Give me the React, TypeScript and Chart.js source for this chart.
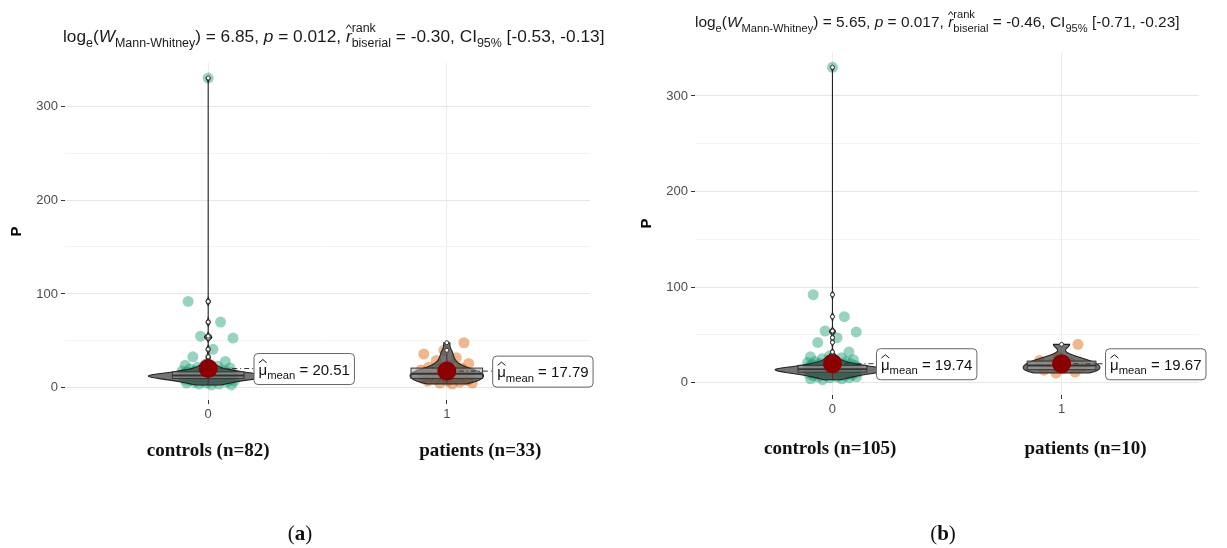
import React, { useEffect, useRef } from "react";
import { Chart, registerables } from "chart.js";
Chart.register(...registerables);

// ---------------- data ----------------
const categories = [0, 1];
const tickLabels = ["0", "1"];
const yMajorTicks = [0, 100, 200, 300];
const yMinorTicks = [50, 150, 250];
const yLabel = "P";

const groupLabelsA = ["controls (n=82)", "patients (n=33)"];
const groupLabelsB = ["controls (n=105)", "patients (n=10)"];

const controlsA = [
  330, 92, 70, 55, 53, 41, 33, 28, 25, 24, 23, 22, 21, 20, 20, 19, 19, 18, 18, 18,
  17, 17, 17, 16, 16, 16, 16, 15, 15, 15, 15, 15, 14, 14, 14, 14, 14, 14, 13, 13,
  13, 13, 13, 13, 13, 12, 12, 12, 12, 12, 12, 12, 11, 11, 11, 11, 11, 11, 10, 10,
  10, 10, 10, 9, 9, 9, 9, 8, 8, 8, 8, 7, 7, 7, 6, 6, 5, 5, 4, 4, 3, 3,
];
const patientsA = [
  48, 40, 36, 32, 29, 26, 24, 22, 21, 20, 19, 18, 17, 17, 16, 15, 15, 14, 14, 13,
  12, 12, 11, 10, 10, 9, 8, 7, 7, 6, 5, 5, 4,
];
const controlsB = [
  330, 92, 69, 54, 53, 47, 42, 32, 28, 27, 26, 25, 24, 23, 22, 22, 21, 21, 20, 20,
  20, 19, 19, 19, 18, 18, 18, 18, 17, 17, 17, 17, 17, 16, 16, 16, 16, 16, 16, 15,
  15, 15, 15, 15, 15, 15, 14, 14, 14, 14, 14, 14, 14, 14, 13, 13, 13, 13, 13, 13,
  13, 13, 12, 12, 12, 12, 12, 12, 12, 11, 11, 11, 11, 11, 11, 10, 10, 10, 10, 10,
  10, 9, 9, 9, 9, 9, 8, 8, 8, 8, 7, 7, 7, 6, 6, 6, 5, 5, 4, 4,
  3, 12, 13, 14, 15,
];
const patientsB = [40, 27, 23, 21, 19, 17, 15, 13, 11, 10];

const meansA = [20.51, 17.79];
const meansB = [19.74, 19.67];
const statsA = ["6.85", "0.012", "-0.30", "[-0.53, -0.13]"];
const statsB = ["5.65", "0.017", "-0.46", "[-0.71, -0.23]"];

// ---------------- styles / layout ----------------
const SANS = "'Liberation Sans', Arial, sans-serif";
const SERIF = "'Liberation Serif', 'Times New Roman', serif";
const GREEN = "rgba(27,158,119,0.45)";
const ORANGE = "rgba(217,95,2,0.45)";
const MEAN_RED = "#8B0000";

type PanelDef = {
  groups: number[][];
  means: number[];
  groupLabels: string[];
  stats: string[];
  letter: string;
};

type PanelStyle = {
  left: number;
  width: number;
  padLeft: number;
  padRight: number;
  padTop: number;
  yAxisW: number;
  xAxisH: number;
  titleX: number;
  titleBase: number;
  titleW: number;
  yTitleX: number;
  catBase: number;
  catShift: number[];
  letterX: number;
  letterBase: number;
};

const styleA: PanelStyle = {
  left: 0, width: 615, padLeft: 0, padRight: 25, padTop: 63, yAxisW: 65, xAxisH: 148,
  titleX: 63, titleBase: 42, titleW: 542, yTitleX: 17, catBase: 456, catShift: [0, 0.14],
  letterX: 300, letterBase: 540,
};
const styleB: PanelStyle = {
  left: 615, width: 612, padLeft: 0, padRight: 28, padTop: 52, yAxisW: 80, xAxisH: 153,
  titleX: 80, titleBase: 27, titleW: 485, yTitleX: 32, catBase: 454, catShift: [-0.01, 0.105],
  letterX: 328, letterBase: 540,
};

const panelA: PanelDef = { groups: [controlsA, patientsA], means: meansA, groupLabels: groupLabelsA, stats: statsA, letter: "a" };
const panelB: PanelDef = { groups: [controlsB, patientsB], means: meansB, groupLabels: groupLabelsB, stats: statsB, letter: "b" };

// ---------------- helpers ----------------
function jitter(i: number) {
  return ((((i * 0.6180339887 + 0.5) % 1) - 0.5) * 0.22);
}

function quantile(s: number[], q: number) {
  const pos = (s.length - 1) * q;
  const lo = Math.floor(pos);
  const hi = Math.ceil(pos);
  return s[lo] + (s[hi] - s[lo]) * (pos - lo);
}

function kde(values: number[]) {
  const s = [...values].sort((a, b) => a - b);
  const n = s.length;
  const mean = s.reduce((a, b) => a + b, 0) / n;
  const sd = Math.sqrt(s.reduce((a, b) => a + (b - mean) ** 2, 0) / (n - 1));
  const iqr = quantile(s, 0.75) - quantile(s, 0.25);
  const bw = 0.9 * Math.min(sd, iqr / 1.34) * Math.pow(n, -0.2);
  const pts: [number, number][] = [];
  const N = 600;
  for (let k = 0; k <= N; k++) {
    const y = s[0] + ((s[n - 1] - s[0]) * k) / N;
    let d = 0;
    for (const v of s) {
      const z = (y - v) / bw;
      d += Math.exp(-0.5 * z * z);
    }
    d /= n * bw * Math.sqrt(2 * Math.PI);
    pts.push([y, d]);
  }
  return pts;
}

type Seg = {
  t?: string;
  size: number;
  italic?: boolean;
  bold?: boolean;
  dy?: number;
  hat?: boolean;
  stack?: [string, string];
  supDy?: number;
  subDy?: number;
};

function fontOf(s: Seg, fam: string) {
  return `${s.italic ? "italic " : ""}${s.bold ? "bold " : ""}${s.size}px ${fam}`;
}

function drawSegs(ctx: CanvasRenderingContext2D, segs: Seg[], x: number, y: number, fam: string, draw: boolean) {
  let cx = x;
  for (const s of segs) {
    if (s.stack) {
      ctx.font = fontOf(s, fam);
      const w1 = ctx.measureText(s.stack[0]).width;
      const w2 = ctx.measureText(s.stack[1]).width;
      if (draw) {
        ctx.fillText(s.stack[0], cx, y + (s.supDy || 0));
        ctx.fillText(s.stack[1], cx, y + (s.subDy || 0));
      }
      cx += Math.max(w1, w2);
      continue;
    }
    ctx.font = fontOf(s, fam);
    const w = ctx.measureText(s.t || "").width;
    if (draw) {
      ctx.fillText(s.t || "", cx, y + (s.dy || 0));
      if (s.hat) {
        const top = y - s.size * 1.0;
        ctx.save();
        ctx.lineWidth = 1;
        ctx.strokeStyle = ctx.fillStyle as string;
        ctx.beginPath();
        ctx.moveTo(cx + w * 0.05, top + s.size * 0.22);
        ctx.lineTo(cx + w * 0.5, top);
        ctx.lineTo(cx + w * 0.95, top + s.size * 0.22);
        ctx.stroke();
        ctx.restore();
      }
    }
    cx += w;
  }
  return cx - x;
}

function titleSegs(stats: string[], S: number): Seg[] {
  const sub = S * 0.72;
  return [
    { t: "log", size: S },
    { t: "e", size: sub, dy: S * 0.3 },
    { t: "(", size: S },
    { t: "W", size: S, italic: true },
    { t: "Mann-Whitney", size: sub, dy: S * 0.3 },
    { t: `) = ${stats[0]}, `, size: S },
    { t: "p", size: S, italic: true },
    { t: ` = ${stats[1]}, `, size: S },
    { t: "r", size: S, italic: true, hat: true },
    { stack: ["rank", "biserial"], size: sub, supDy: -S * 0.55, subDy: S * 0.3 },
    { t: ` = ${stats[2]}, CI`, size: S },
    { t: "95%", size: sub, dy: S * 0.3 },
    { t: ` ${stats[3]}`, size: S },
  ];
}

function meanSegs(m: number, M: number): Seg[] {
  return [
    { t: "μ", size: M, hat: true },
    { t: "mean", size: M * 0.75, dy: M * 0.3 },
    { t: ` = ${m.toFixed(2)}`, size: M },
  ];
}

function makePlugin(p: PanelDef, st: PanelStyle) {
  return {
    id: "panelDecor",
    beforeDatasetDraw(chart: any, args: any) {
      if (args.index !== 0) return;
      const ctx: CanvasRenderingContext2D = chart.ctx;
      const xs = chart.scales.x;
      const ys = chart.scales.y;
      const dens = p.groups.map(kde);
      let maxD = 0;
      dens.forEach((d) => d.forEach((q) => (maxD = Math.max(maxD, q[1]))));
      const k = 0.25 / maxD;
      ctx.save();
      p.groups.forEach((vals, gi) => {
        const cat = categories[gi];
        const pts = dens[gi];
        // violin
        ctx.beginPath();
        pts.forEach(([v, d], j) => {
          const px = xs.getPixelForValue(cat + d * k);
          const py = ys.getPixelForValue(v);
          if (j === 0) ctx.moveTo(px, py);
          else ctx.lineTo(px, py);
        });
        for (let j = pts.length - 1; j >= 0; j--) {
          const [v, d] = pts[j];
          ctx.lineTo(xs.getPixelForValue(cat - d * k), ys.getPixelForValue(v));
        }
        ctx.closePath();
        ctx.fillStyle = "rgba(75,75,75,0.78)";
        ctx.fill();
        ctx.strokeStyle = "#222";
        ctx.lineWidth = 1.1;
        ctx.stroke();

        // box
        const s = [...vals].sort((a, b) => a - b);
        const q1 = quantile(s, 0.25);
        const q2 = quantile(s, 0.5);
        const q3 = quantile(s, 0.75);
        const iqr = q3 - q1;
        const hiW = Math.max(...s.filter((v) => v <= q3 + 1.5 * iqr));
        const loW = Math.min(...s.filter((v) => v >= q1 - 1.5 * iqr));
        const bl = xs.getPixelForValue(cat - 0.15);
        const br = xs.getPixelForValue(cat + 0.15);
        const cx = xs.getPixelForValue(cat);
        ctx.strokeStyle = "#333";
        ctx.lineWidth = 1;
        ctx.beginPath();
        ctx.moveTo(cx, ys.getPixelForValue(q3));
        ctx.lineTo(cx, ys.getPixelForValue(hiW));
        ctx.moveTo(cx, ys.getPixelForValue(q1));
        ctx.lineTo(cx, ys.getPixelForValue(loW));
        ctx.stroke();
        const yt = ys.getPixelForValue(q3);
        const yb = ys.getPixelForValue(q1);
        ctx.fillStyle = "rgba(170,170,170,0.55)";
        ctx.fillRect(bl, yt, br - bl, yb - yt);
        ctx.strokeRect(bl, yt, br - bl, yb - yt);
        ctx.lineWidth = 2;
        ctx.beginPath();
        ctx.moveTo(bl, ys.getPixelForValue(q2));
        ctx.lineTo(br, ys.getPixelForValue(q2));
        ctx.stroke();
        // outliers
        ctx.lineWidth = 1;
        s.filter((v) => v > hiW || v < loW).forEach((v) => {
          ctx.beginPath();
          ctx.arc(cx, ys.getPixelForValue(v), 2, 0, Math.PI * 2);
          ctx.fillStyle = "#fff";
          ctx.fill();
          ctx.strokeStyle = "#333";
          ctx.stroke();
        });

        // dash-dot connector to mean label
        const my = ys.getPixelForValue(p.means[gi]);
        ctx.save();
        ctx.setLineDash([5, 3, 1, 3]);
        ctx.strokeStyle = "#333";
        ctx.lineWidth = 1;
        ctx.beginPath();
        ctx.moveTo(cx, my);
        ctx.lineTo(xs.getPixelForValue(cat + 0.19), my);
        ctx.stroke();
        ctx.restore();
      });
      ctx.restore();
    },
    afterDatasetsDraw(chart: any) {
      const ctx: CanvasRenderingContext2D = chart.ctx;
      const xs = chart.scales.x;
      const ys = chart.scales.y;
      ctx.save();
      p.means.forEach((m, gi) => {
        const cat = categories[gi];
        const lx = xs.getPixelForValue(cat + 0.19);
        const my = ys.getPixelForValue(m);
        const segs = meanSegs(m, 15);
        ctx.fillStyle = "#111";
        const tw = drawSegs(ctx, segs, 0, 0, SANS, false);
        const w = tw + 9;
        const h = 31;
        ctx.beginPath();
        (ctx as any).roundRect(lx + 0.5, my - h / 2 + 0.5, w, h, 4);
        ctx.fillStyle = "#fff";
        ctx.fill();
        ctx.strokeStyle = "#666";
        ctx.lineWidth = 1;
        ctx.stroke();
        ctx.fillStyle = "#111";
        ctx.textBaseline = "alphabetic";
        drawSegs(ctx, segs, lx + 5, my + 6, SANS, true);
      });
      ctx.restore();
    },
    afterDraw(chart: any) {
      const ctx: CanvasRenderingContext2D = chart.ctx;
      const xs = chart.scales.x;
      const area = chart.chartArea;
      ctx.save();
      ctx.textBaseline = "alphabetic";
      ctx.fillStyle = "#1a1a1a";
      // title (fit to target width)
      const w0 = drawSegs(ctx, titleSegs(p.stats, 14), 0, 0, SANS, false);
      const S = (14 * st.titleW) / w0;
      drawSegs(ctx, titleSegs(p.stats, S), st.titleX, st.titleBase, SANS, true);

      // y axis title
      ctx.save();
      ctx.translate(st.yTitleX, (area.top + area.bottom) / 2);
      ctx.rotate(-Math.PI / 2);
      ctx.font = `bold 15px ${SANS}`;
      ctx.textAlign = "center";
      ctx.textBaseline = "middle";
      ctx.fillStyle = "#000";
      ctx.fillText(yLabel, 0, 0);
      ctx.restore();

      // category labels
      ctx.font = `bold 19px ${SERIF}`;
      ctx.textAlign = "center";
      ctx.fillStyle = "#111";
      p.groupLabels.forEach((lab, gi) => {
        ctx.fillText(lab, xs.getPixelForValue(categories[gi] + st.catShift[gi]), st.catBase);
      });

      // panel letter "(a)"
      ctx.textAlign = "left";
      const fr = `21px ${SERIF}`;
      const fb = `bold 21px ${SERIF}`;
      ctx.font = fr;
      const wp = ctx.measureText("(").width;
      const wq = ctx.measureText(")").width;
      ctx.font = fb;
      const wl = ctx.measureText(p.letter).width;
      let x = st.letterX - (wp + wq + wl) / 2;
      ctx.font = fr;
      ctx.fillText("(", x, st.letterBase);
      x += wp;
      ctx.font = fb;
      ctx.fillText(p.letter, x, st.letterBase);
      x += wl;
      ctx.font = fr;
      ctx.fillText(")", x, st.letterBase);
      ctx.restore();
    },
  };
}

function buildConfig(p: PanelDef, st: PanelStyle): any {
  const allY = [...yMajorTicks, ...yMinorTicks].sort((a, b) => a - b);
  return {
    type: "scatter",
    data: {
      datasets: [
        {
          data: p.means.map((m, i) => ({ x: categories[i], y: m })),
          backgroundColor: MEAN_RED,
          borderWidth: 0,
          pointRadius: 9.5,
        },
        {
          data: p.groups[1].map((v, i) => ({ x: categories[1] + jitter(i + 7), y: v })),
          backgroundColor: ORANGE,
          borderWidth: 0,
          pointRadius: 5.5,
        },
        {
          data: p.groups[0].map((v, i) => ({ x: categories[0] + jitter(i), y: v })),
          backgroundColor: GREEN,
          borderWidth: 0,
          pointRadius: 5.5,
        },
      ],
    },
    options: {
      animation: false,
      responsive: false,
      devicePixelRatio: 1,
      events: [],
      layout: { padding: { left: st.padLeft, right: st.padRight, top: st.padTop, bottom: 0 } },
      plugins: { legend: { display: false }, tooltip: { enabled: false }, title: { display: false } },
      scales: {
        x: {
          type: "linear",
          min: -0.6,
          max: 1.6,
          afterBuildTicks: (s: any) => {
            s.ticks = categories.map((v) => ({ value: v }));
          },
          afterFit: (s: any) => {
            s.height = st.xAxisH;
          },
          ticks: {
            autoSkip: false,
            maxRotation: 0,
            padding: 3,
            color: "#4D4D4D",
            font: { family: SANS, size: 13 },
            callback: (v: number) => {
              const i = categories.indexOf(v);
              return i >= 0 ? tickLabels[i] : "";
            },
          },
          grid: { color: "#EBEBEB", lineWidth: 1, tickColor: "#333", tickLength: 4 },
          border: { display: false },
        },
        y: {
          type: "linear",
          min: -13,
          max: 346,
          afterBuildTicks: (s: any) => {
            s.ticks = allY.map((v) => ({ value: v }));
          },
          afterFit: (s: any) => {
            s.width = st.yAxisW;
          },
          ticks: {
            padding: 3,
            color: "#4D4D4D",
            font: { family: SANS, size: 13 },
            callback: (v: number) => (yMajorTicks.includes(v) ? String(v) : ""),
          },
          grid: {
            lineWidth: 1,
            tickLength: 4,
            color: (c: any) => (yMajorTicks.includes(c.tick?.value) ? "#E6E6E6" : "#F3F3F3"),
            tickColor: (c: any) => (yMajorTicks.includes(c.tick?.value) ? "#333" : "rgba(0,0,0,0)"),
          },
          border: { display: false },
        },
      },
    },
    plugins: [makePlugin(p, st)],
  };
}

function PanelChart({ panel, st }: { panel: PanelDef; st: PanelStyle }) {
  const ref = useRef<HTMLCanvasElement>(null);
  useEffect(() => {
    const chart = new Chart(ref.current as HTMLCanvasElement, buildConfig(panel, st));
    return () => chart.destroy();
  }, []);
  return (
    <canvas
      ref={ref}
      width={st.width}
      height={548}
      style={{ position: "absolute", left: st.left, top: 0, width: st.width, height: 548 }}
    />
  );
}

export default function App() {
  return (
    <div
      style={{
        position: "fixed",
        left: 0,
        top: 0,
        width: 1227,
        height: 548,
        background: "#fff",
        overflow: "hidden",
      }}
    >
      <PanelChart panel={panelA} st={styleA} />
      <PanelChart panel={panelB} st={styleB} />
    </div>
  );
}
